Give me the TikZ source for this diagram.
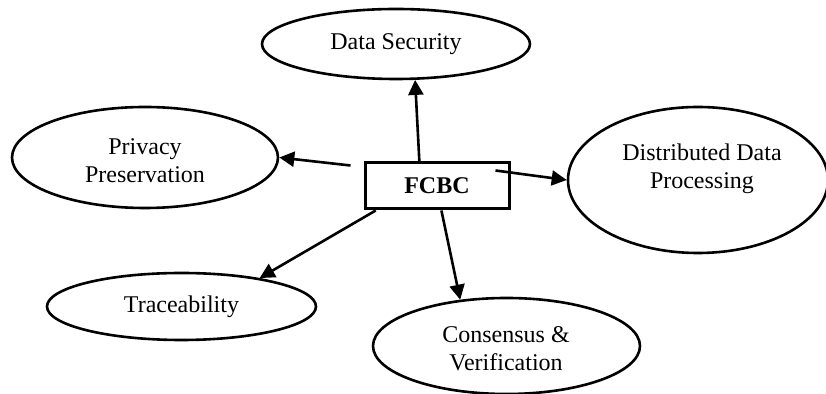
\documentclass[tikz,border=0pt]{standalone}
\usepackage{fontspec}
\setmainfont{Liberation Serif}
\usetikzlibrary{arrows.meta,calc,shapes.geometric}
\begin{document}
\begin{tikzpicture}[x=0.5pt,y=-0.5pt,
  oval/.style={draw,ellipse,line width=1.3pt,inner sep=0pt,align=center,font=\fontsize{12}{14}\selectfont},
  hub/.style={draw,rectangle,line width=1.5pt,minimum width=72pt,minimum height=23pt,inner sep=0pt,font=\fontsize{12}{14}\selectfont\bfseries},
  conn/.style={line width=1.3pt,-{Triangle[length=7.5pt,width=7.5pt]}},
  lbl/.style={align=center,inner sep=0pt,font=\fontsize{12}{14}\selectfont}]
\useasboundingbox (0,0) rectangle (826,394);

\node[hub] (fcbc) at (437,186) {FCBC};

\node[oval,minimum width=134pt,minimum height=35pt] (ds) at (396,44) {Data Security};
\node[oval,minimum width=133pt,minimum height=50.5pt] (pp) at (145,157.5) {};
\node[lbl] (ppt) at (145,161) {Privacy\\Preservation};
\node[oval,minimum width=130pt,minimum height=73pt] (dd) at (698,180) {};
\node[lbl] (ddt) at (702,169) {Distributed Data\\Processing};
\node[oval,minimum width=134.5pt,minimum height=33.5pt] (tr) at (181.5,306.5) {Traceability};
\node[oval,minimum width=133.5pt,minimum height=48pt] (cv) at (506.5,346) {};
\node[lbl] (cvt) at (506,349) {Consensus \&\\Verification};

\coordinate (ps) at ($(fcbc.north west)+(-13,4)$);
\coordinate (dst) at ($(fcbc.north east)+(-15,9)$);

\draw[conn] ($(fcbc.north west)!0.38!(fcbc.north east)$) -- (ds.-62);
\draw[conn] (ps) -- (pp.east);
\draw[conn] (dst) -- (dd.west);
\draw[conn] ($(fcbc.south west)!0.083!(fcbc.south east)$) -- (tr.20);
\draw[conn] ($(fcbc.south west)!0.53!(fcbc.south east)$) -- (cv.135);
\end{tikzpicture}
\end{document}
